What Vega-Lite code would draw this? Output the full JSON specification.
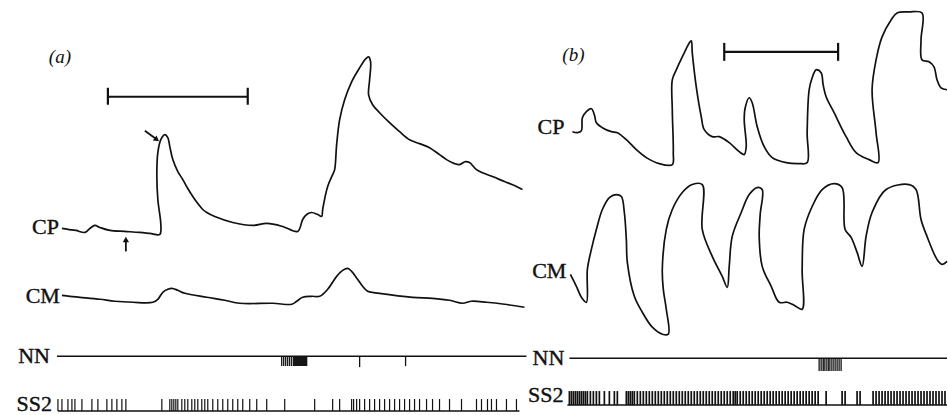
{
  "$schema": "https://vega.github.io/schema/vega-lite/v6.json",
  "width": 948,
  "height": 415,
  "autosize": {"type": "fit", "contains": "padding"},
  "padding": 0,
  "background": "white",
  "config": {"view": {"stroke": null}},
  "datasets": {
    "traces": [
      {"trace": "a-CP", "seq": 1, "x": 62, "y": 229}, {"trace": "a-CP", "seq": 2, "x": 68, "y": 230}, {"trace": "a-CP", "seq": 3, "x": 76, "y": 231}, {"trace": "a-CP", "seq": 4, "x": 85, "y": 233}, {"trace": "a-CP", "seq": 5, "x": 90, "y": 229}, {"trace": "a-CP", "seq": 6, "x": 95, "y": 226}, {"trace": "a-CP", "seq": 7, "x": 100, "y": 228}, {"trace": "a-CP", "seq": 8, "x": 110, "y": 231}, {"trace": "a-CP", "seq": 9, "x": 125, "y": 232}, {"trace": "a-CP", "seq": 10, "x": 140, "y": 233}, {"trace": "a-CP", "seq": 11, "x": 150, "y": 234}, {"trace": "a-CP", "seq": 12, "x": 160, "y": 235},
      {"trace": "a-CP", "seq": 13, "x": 161, "y": 225}, {"trace": "a-CP", "seq": 14, "x": 158, "y": 200}, {"trace": "a-CP", "seq": 15, "x": 157, "y": 175}, {"trace": "a-CP", "seq": 16, "x": 158, "y": 153}, {"trace": "a-CP", "seq": 17, "x": 161, "y": 140}, {"trace": "a-CP", "seq": 18, "x": 165, "y": 135}, {"trace": "a-CP", "seq": 19, "x": 168, "y": 138}, {"trace": "a-CP", "seq": 20, "x": 170, "y": 147}, {"trace": "a-CP", "seq": 21, "x": 173, "y": 160}, {"trace": "a-CP", "seq": 22, "x": 178, "y": 172}, {"trace": "a-CP", "seq": 23, "x": 183, "y": 180}, {"trace": "a-CP", "seq": 24, "x": 188, "y": 189}, {"trace": "a-CP", "seq": 25, "x": 193, "y": 197}, {"trace": "a-CP", "seq": 26, "x": 198, "y": 204}, {"trace": "a-CP", "seq": 27, "x": 203, "y": 210}, {"trace": "a-CP", "seq": 28, "x": 207, "y": 213}, {"trace": "a-CP", "seq": 29, "x": 215, "y": 217}, {"trace": "a-CP", "seq": 30, "x": 233, "y": 223}, {"trace": "a-CP", "seq": 31, "x": 253, "y": 226}, {"trace": "a-CP", "seq": 32, "x": 267, "y": 224}, {"trace": "a-CP", "seq": 33, "x": 283, "y": 227}, {"trace": "a-CP", "seq": 34, "x": 298, "y": 232}, {"trace": "a-CP", "seq": 35, "x": 303, "y": 220}, {"trace": "a-CP", "seq": 36, "x": 307, "y": 215}, {"trace": "a-CP", "seq": 37, "x": 312, "y": 213}, {"trace": "a-CP", "seq": 38, "x": 318, "y": 215}, {"trace": "a-CP", "seq": 39, "x": 322, "y": 217},
      {"trace": "a-CP", "seq": 40, "x": 323, "y": 210}, {"trace": "a-CP", "seq": 41, "x": 328, "y": 187}, {"trace": "a-CP", "seq": 42, "x": 333, "y": 175}, {"trace": "a-CP", "seq": 43, "x": 335, "y": 170}, {"trace": "a-CP", "seq": 44, "x": 337, "y": 145}, {"trace": "a-CP", "seq": 45, "x": 340, "y": 120}, {"trace": "a-CP", "seq": 46, "x": 345, "y": 100}, {"trace": "a-CP", "seq": 47, "x": 352, "y": 82}, {"trace": "a-CP", "seq": 48, "x": 360, "y": 68}, {"trace": "a-CP", "seq": 49, "x": 366, "y": 59}, {"trace": "a-CP", "seq": 50, "x": 369, "y": 57}, {"trace": "a-CP", "seq": 51, "x": 371, "y": 62}, {"trace": "a-CP", "seq": 52, "x": 370, "y": 80}, {"trace": "a-CP", "seq": 53, "x": 369, "y": 95}, {"trace": "a-CP", "seq": 54, "x": 373, "y": 105}, {"trace": "a-CP", "seq": 55, "x": 380, "y": 113}, {"trace": "a-CP", "seq": 56, "x": 390, "y": 123}, {"trace": "a-CP", "seq": 57, "x": 400, "y": 132}, {"trace": "a-CP", "seq": 58, "x": 410, "y": 140}, {"trace": "a-CP", "seq": 59, "x": 420, "y": 144}, {"trace": "a-CP", "seq": 60, "x": 430, "y": 148}, {"trace": "a-CP", "seq": 61, "x": 440, "y": 155}, {"trace": "a-CP", "seq": 62, "x": 447, "y": 160}, {"trace": "a-CP", "seq": 63, "x": 455, "y": 164}, {"trace": "a-CP", "seq": 64, "x": 460, "y": 165}, {"trace": "a-CP", "seq": 65, "x": 466, "y": 162}, {"trace": "a-CP", "seq": 66, "x": 470, "y": 163}, {"trace": "a-CP", "seq": 67, "x": 477, "y": 170}, {"trace": "a-CP", "seq": 68, "x": 485, "y": 174}, {"trace": "a-CP", "seq": 69, "x": 493, "y": 177}, {"trace": "a-CP", "seq": 70, "x": 505, "y": 182}, {"trace": "a-CP", "seq": 71, "x": 515, "y": 186}, {"trace": "a-CP", "seq": 72, "x": 523, "y": 190},

      {"trace": "a-CM", "seq": 1, "x": 62, "y": 296}, {"trace": "a-CM", "seq": 2, "x": 70, "y": 297}, {"trace": "a-CM", "seq": 3, "x": 80, "y": 298}, {"trace": "a-CM", "seq": 4, "x": 100, "y": 300}, {"trace": "a-CM", "seq": 5, "x": 115, "y": 302}, {"trace": "a-CM", "seq": 6, "x": 133, "y": 303}, {"trace": "a-CM", "seq": 7, "x": 153, "y": 303}, {"trace": "a-CM", "seq": 8, "x": 158, "y": 300}, {"trace": "a-CM", "seq": 9, "x": 163, "y": 293}, {"trace": "a-CM", "seq": 10, "x": 168, "y": 290}, {"trace": "a-CM", "seq": 11, "x": 172, "y": 289}, {"trace": "a-CM", "seq": 12, "x": 178, "y": 291}, {"trace": "a-CM", "seq": 13, "x": 185, "y": 294}, {"trace": "a-CM", "seq": 14, "x": 207, "y": 298}, {"trace": "a-CM", "seq": 15, "x": 225, "y": 301}, {"trace": "a-CM", "seq": 16, "x": 240, "y": 304}, {"trace": "a-CM", "seq": 17, "x": 273, "y": 304}, {"trace": "a-CM", "seq": 18, "x": 292, "y": 305}, {"trace": "a-CM", "seq": 19, "x": 297, "y": 302}, {"trace": "a-CM", "seq": 20, "x": 303, "y": 298}, {"trace": "a-CM", "seq": 21, "x": 312, "y": 297}, {"trace": "a-CM", "seq": 22, "x": 320, "y": 297}, {"trace": "a-CM", "seq": 23, "x": 328, "y": 290}, {"trace": "a-CM", "seq": 24, "x": 337, "y": 277}, {"trace": "a-CM", "seq": 25, "x": 343, "y": 271}, {"trace": "a-CM", "seq": 26, "x": 348, "y": 269}, {"trace": "a-CM", "seq": 27, "x": 352, "y": 272}, {"trace": "a-CM", "seq": 28, "x": 358, "y": 280}, {"trace": "a-CM", "seq": 29, "x": 363, "y": 287}, {"trace": "a-CM", "seq": 30, "x": 368, "y": 292}, {"trace": "a-CM", "seq": 31, "x": 380, "y": 294}, {"trace": "a-CM", "seq": 32, "x": 413, "y": 298}, {"trace": "a-CM", "seq": 33, "x": 433, "y": 299}, {"trace": "a-CM", "seq": 34, "x": 450, "y": 301}, {"trace": "a-CM", "seq": 35, "x": 463, "y": 304}, {"trace": "a-CM", "seq": 36, "x": 472, "y": 302}, {"trace": "a-CM", "seq": 37, "x": 487, "y": 303}, {"trace": "a-CM", "seq": 38, "x": 505, "y": 305}, {"trace": "a-CM", "seq": 39, "x": 525, "y": 308},

      {"trace": "b-CP", "seq": 1, "x": 573, "y": 132}, {"trace": "b-CP", "seq": 2, "x": 578, "y": 133}, {"trace": "b-CP", "seq": 3, "x": 582, "y": 131}, {"trace": "b-CP", "seq": 4, "x": 583, "y": 118}, {"trace": "b-CP", "seq": 5, "x": 587, "y": 112}, {"trace": "b-CP", "seq": 6, "x": 592, "y": 109}, {"trace": "b-CP", "seq": 7, "x": 595, "y": 115}, {"trace": "b-CP", "seq": 8, "x": 597, "y": 123}, {"trace": "b-CP", "seq": 9, "x": 603, "y": 128}, {"trace": "b-CP", "seq": 10, "x": 612, "y": 132}, {"trace": "b-CP", "seq": 11, "x": 618, "y": 133}, {"trace": "b-CP", "seq": 12, "x": 627, "y": 140}, {"trace": "b-CP", "seq": 13, "x": 637, "y": 150}, {"trace": "b-CP", "seq": 14, "x": 647, "y": 158}, {"trace": "b-CP", "seq": 15, "x": 660, "y": 164}, {"trace": "b-CP", "seq": 16, "x": 673, "y": 165}, {"trace": "b-CP", "seq": 17, "x": 674, "y": 153}, {"trace": "b-CP", "seq": 18, "x": 673, "y": 110}, {"trace": "b-CP", "seq": 19, "x": 673, "y": 80}, {"trace": "b-CP", "seq": 20, "x": 677, "y": 70}, {"trace": "b-CP", "seq": 21, "x": 685, "y": 53}, {"trace": "b-CP", "seq": 22, "x": 690, "y": 43}, {"trace": "b-CP", "seq": 23, "x": 692, "y": 41}, {"trace": "b-CP", "seq": 24, "x": 693, "y": 53}, {"trace": "b-CP", "seq": 25, "x": 697, "y": 87}, {"trace": "b-CP", "seq": 26, "x": 702, "y": 117}, {"trace": "b-CP", "seq": 27, "x": 705, "y": 130}, {"trace": "b-CP", "seq": 28, "x": 713, "y": 137}, {"trace": "b-CP", "seq": 29, "x": 720, "y": 137}, {"trace": "b-CP", "seq": 30, "x": 730, "y": 143}, {"trace": "b-CP", "seq": 31, "x": 740, "y": 152}, {"trace": "b-CP", "seq": 32, "x": 745, "y": 155}, {"trace": "b-CP", "seq": 33, "x": 747, "y": 147}, {"trace": "b-CP", "seq": 34, "x": 745, "y": 120}, {"trace": "b-CP", "seq": 35, "x": 746, "y": 108}, {"trace": "b-CP", "seq": 36, "x": 750, "y": 98}, {"trace": "b-CP", "seq": 37, "x": 753, "y": 103}, {"trace": "b-CP", "seq": 38, "x": 758, "y": 127}, {"trace": "b-CP", "seq": 39, "x": 765, "y": 147}, {"trace": "b-CP", "seq": 40, "x": 773, "y": 158}, {"trace": "b-CP", "seq": 41, "x": 787, "y": 163}, {"trace": "b-CP", "seq": 42, "x": 800, "y": 164}, {"trace": "b-CP", "seq": 43, "x": 808, "y": 163}, {"trace": "b-CP", "seq": 44, "x": 808, "y": 133}, {"trace": "b-CP", "seq": 45, "x": 810, "y": 90}, {"trace": "b-CP", "seq": 46, "x": 813, "y": 78}, {"trace": "b-CP", "seq": 47, "x": 817, "y": 70}, {"trace": "b-CP", "seq": 48, "x": 822, "y": 73}, {"trace": "b-CP", "seq": 49, "x": 824, "y": 85}, {"trace": "b-CP", "seq": 50, "x": 827, "y": 97}, {"trace": "b-CP", "seq": 51, "x": 835, "y": 113}, {"trace": "b-CP", "seq": 52, "x": 847, "y": 137}, {"trace": "b-CP", "seq": 53, "x": 857, "y": 153}, {"trace": "b-CP", "seq": 54, "x": 870, "y": 160}, {"trace": "b-CP", "seq": 55, "x": 879, "y": 163}, {"trace": "b-CP", "seq": 56, "x": 877, "y": 133}, {"trace": "b-CP", "seq": 57, "x": 873, "y": 90}, {"trace": "b-CP", "seq": 58, "x": 877, "y": 60}, {"trace": "b-CP", "seq": 59, "x": 883, "y": 37}, {"trace": "b-CP", "seq": 60, "x": 892, "y": 20}, {"trace": "b-CP", "seq": 61, "x": 898, "y": 13}, {"trace": "b-CP", "seq": 62, "x": 910, "y": 12}, {"trace": "b-CP", "seq": 63, "x": 923, "y": 13}, {"trace": "b-CP", "seq": 64, "x": 922, "y": 40}, {"trace": "b-CP", "seq": 65, "x": 923, "y": 60}, {"trace": "b-CP", "seq": 66, "x": 930, "y": 62}, {"trace": "b-CP", "seq": 67, "x": 935, "y": 67}, {"trace": "b-CP", "seq": 68, "x": 938, "y": 80}, {"trace": "b-CP", "seq": 69, "x": 942, "y": 88}, {"trace": "b-CP", "seq": 70, "x": 948, "y": 90},

      {"trace": "b-CM", "seq": 1, "x": 571, "y": 275}, {"trace": "b-CM", "seq": 2, "x": 577, "y": 287}, {"trace": "b-CM", "seq": 3, "x": 582, "y": 298}, {"trace": "b-CM", "seq": 4, "x": 587, "y": 303}, {"trace": "b-CM", "seq": 5, "x": 588, "y": 270}, {"trace": "b-CM", "seq": 6, "x": 592, "y": 250}, {"trace": "b-CM", "seq": 7, "x": 597, "y": 230}, {"trace": "b-CM", "seq": 8, "x": 603, "y": 210}, {"trace": "b-CM", "seq": 9, "x": 610, "y": 198}, {"trace": "b-CM", "seq": 10, "x": 617, "y": 195}, {"trace": "b-CM", "seq": 11, "x": 622, "y": 197}, {"trace": "b-CM", "seq": 12, "x": 625, "y": 213}, {"trace": "b-CM", "seq": 13, "x": 627, "y": 240}, {"trace": "b-CM", "seq": 14, "x": 628, "y": 263}, {"trace": "b-CM", "seq": 15, "x": 635, "y": 297}, {"trace": "b-CM", "seq": 16, "x": 643, "y": 313}, {"trace": "b-CM", "seq": 17, "x": 653, "y": 328}, {"trace": "b-CM", "seq": 18, "x": 663, "y": 335}, {"trace": "b-CM", "seq": 19, "x": 669, "y": 335}, {"trace": "b-CM", "seq": 20, "x": 667, "y": 310}, {"trace": "b-CM", "seq": 21, "x": 664, "y": 290}, {"trace": "b-CM", "seq": 22, "x": 663, "y": 270}, {"trace": "b-CM", "seq": 23, "x": 667, "y": 230}, {"trace": "b-CM", "seq": 24, "x": 673, "y": 210}, {"trace": "b-CM", "seq": 25, "x": 683, "y": 193}, {"trace": "b-CM", "seq": 26, "x": 693, "y": 185}, {"trace": "b-CM", "seq": 27, "x": 703, "y": 185}, {"trace": "b-CM", "seq": 28, "x": 703, "y": 230}, {"trace": "b-CM", "seq": 29, "x": 713, "y": 257}, {"trace": "b-CM", "seq": 30, "x": 723, "y": 277}, {"trace": "b-CM", "seq": 31, "x": 728, "y": 288}, {"trace": "b-CM", "seq": 32, "x": 730, "y": 267}, {"trace": "b-CM", "seq": 33, "x": 733, "y": 237}, {"trace": "b-CM", "seq": 34, "x": 742, "y": 213}, {"trace": "b-CM", "seq": 35, "x": 750, "y": 195}, {"trace": "b-CM", "seq": 36, "x": 758, "y": 188}, {"trace": "b-CM", "seq": 37, "x": 763, "y": 190}, {"trace": "b-CM", "seq": 38, "x": 761, "y": 215}, {"trace": "b-CM", "seq": 39, "x": 760, "y": 237}, {"trace": "b-CM", "seq": 40, "x": 763, "y": 267}, {"trace": "b-CM", "seq": 41, "x": 772, "y": 287}, {"trace": "b-CM", "seq": 42, "x": 780, "y": 303}, {"trace": "b-CM", "seq": 43, "x": 788, "y": 303}, {"trace": "b-CM", "seq": 44, "x": 795, "y": 306}, {"trace": "b-CM", "seq": 45, "x": 803, "y": 310}, {"trace": "b-CM", "seq": 46, "x": 803, "y": 270}, {"trace": "b-CM", "seq": 47, "x": 805, "y": 230}, {"trace": "b-CM", "seq": 48, "x": 813, "y": 207}, {"trace": "b-CM", "seq": 49, "x": 823, "y": 190}, {"trace": "b-CM", "seq": 50, "x": 835, "y": 184}, {"trace": "b-CM", "seq": 51, "x": 843, "y": 188}, {"trace": "b-CM", "seq": 52, "x": 846, "y": 230}, {"trace": "b-CM", "seq": 53, "x": 852, "y": 238}, {"trace": "b-CM", "seq": 54, "x": 858, "y": 253}, {"trace": "b-CM", "seq": 55, "x": 863, "y": 267}, {"trace": "b-CM", "seq": 56, "x": 867, "y": 237}, {"trace": "b-CM", "seq": 57, "x": 873, "y": 213}, {"trace": "b-CM", "seq": 58, "x": 887, "y": 190}, {"trace": "b-CM", "seq": 59, "x": 910, "y": 185}, {"trace": "b-CM", "seq": 60, "x": 917, "y": 190}, {"trace": "b-CM", "seq": 61, "x": 922, "y": 220}, {"trace": "b-CM", "seq": 62, "x": 928, "y": 237}, {"trace": "b-CM", "seq": 63, "x": 938, "y": 260}, {"trace": "b-CM", "seq": 64, "x": 943, "y": 265}, {"trace": "b-CM", "seq": 65, "x": 948, "y": 262}
    ],
    "baselines": [
      {"row": "a-NN", "x": 57, "x2": 527, "y": 357},
      {"row": "b-NN", "x": 570, "x2": 948, "y": 359},
      {"row": "a-SS2", "x": 58, "x2": 520, "y": 412},
      {"row": "b-SS2", "x": 568, "x2": 948, "y": 406}
    ],
    "scalebars": [
      {"panel": "a", "x": 108, "x2": 248, "y": 97, "y2": 97},
      {"panel": "a", "x": 108, "x2": 108, "y": 88, "y2": 105},
      {"panel": "a", "x": 248, "x2": 248, "y": 88, "y2": 105},
      {"panel": "b", "x": 725, "x2": 839, "y": 52, "y2": 52},
      {"panel": "b", "x": 725, "x2": 725, "y": 43, "y2": 61},
      {"panel": "b", "x": 839, "x2": 839, "y": 43, "y2": 61}
    ],
    "nnBursts": [
      {"x": 282, "y": 357, "y2": 367}, {"x": 284, "y": 357, "y2": 367}, {"x": 286, "y": 357, "y2": 367}, {"x": 288, "y": 357, "y2": 367}, {"x": 290, "y": 357, "y2": 367}, {"x": 292, "y": 357, "y2": 367}, {"x": 294, "y": 357, "y2": 367}, {"x": 295, "y": 357, "y2": 367}, {"x": 296, "y": 357, "y2": 367}, {"x": 297, "y": 357, "y2": 367}, {"x": 298, "y": 357, "y2": 367}, {"x": 299, "y": 357, "y2": 367}, {"x": 300, "y": 357, "y2": 367}, {"x": 301, "y": 357, "y2": 367}, {"x": 302, "y": 357, "y2": 367}, {"x": 303, "y": 357, "y2": 367}, {"x": 304, "y": 357, "y2": 367}, {"x": 305, "y": 357, "y2": 367}, {"x": 306, "y": 357, "y2": 367}, {"x": 307, "y": 357, "y2": 367},
      {"x": 360, "y": 357, "y2": 368}, {"x": 406, "y": 357, "y2": 367},
      {"x": 820, "y": 359, "y2": 372}, {"x": 822, "y": 359, "y2": 372}, {"x": 824, "y": 359, "y2": 372}, {"x": 825, "y": 359, "y2": 372}, {"x": 827, "y": 359, "y2": 372}, {"x": 829, "y": 359, "y2": 372}, {"x": 830, "y": 359, "y2": 372}, {"x": 832, "y": 359, "y2": 372}, {"x": 834, "y": 359, "y2": 372}, {"x": 836, "y": 359, "y2": 372}, {"x": 838, "y": 359, "y2": 372}, {"x": 840, "y": 359, "y2": 372}, {"x": 842, "y": 359, "y2": 372}
    ],
    "ss2a": [58, 62, 68, 72, 75, 82, 92, 98, 107, 112, 117, 122, 126, 162, 170, 172, 174, 176, 178, 182, 185, 188, 192, 195, 198, 202, 205, 208, 213, 218, 223, 228, 233, 238, 243, 250, 257, 267, 285, 315, 333, 340, 352, 354, 357, 360, 365, 370, 375, 380, 385, 390, 395, 400, 405, 410, 415, 420, 427, 433, 440, 450, 462, 477, 482, 488, 492, 497, 507, 517],
    "ss2b": [570, 572, 574, 576, 578, 580, 582, 584, 586, 588, 591, 594, 597, 600, 605, 610, 615, 618, 627, 629, 631, 633, 635, 638, 641, 644, 647, 650, 653, 656, 659, 662, 665, 668, 671, 674, 677, 680, 683, 686, 689, 692, 695, 698, 701, 704, 707, 710, 713, 716, 719, 722, 725, 728, 731, 734, 736, 738, 741, 744, 747, 750, 753, 756, 759, 762, 765, 768, 771, 774, 777, 780, 783, 786, 789, 792, 795, 798, 801, 804, 807, 810, 813, 816, 819, 827, 843, 846, 858, 861, 874, 877, 880, 883, 886, 889, 892, 895, 898, 901, 904, 907, 910, 913, 916, 919, 922, 925, 928, 931, 934, 937, 940, 943, 946],
    "labels": [
      {"text": "CP", "x": 59, "y": 228},
      {"text": "CM", "x": 60, "y": 297},
      {"text": "NN", "x": 50, "y": 357},
      {"text": "SS2", "x": 52, "y": 405},
      {"text": "CP", "x": 565, "y": 127},
      {"text": "CM", "x": 567, "y": 272},
      {"text": "NN", "x": 565, "y": 359},
      {"text": "SS2", "x": 564, "y": 396}
    ],
    "panels": [
      {"text": "(a)", "x": 60, "y": 57},
      {"text": "(b)", "x": 574, "y": 55}
    ],
    "shafts": [
      {"x": 145, "x2": 156, "y": 131, "y2": 139},
      {"x": 126, "x2": 126, "y": 252, "y2": 241}
    ],
    "heads": [
      {"x": 157, "y": 140, "angle": 127},
      {"x": 126, "y": 240, "angle": 0}
    ]
  },
  "layer": [
    {
      "data": {"name": "traces"},
      "mark": {"type": "line", "color": "#111", "strokeWidth": 1.7, "interpolate": "catmull-rom", "strokeJoin": "round"},
      "encoding": {
        "x": {"field": "x", "type": "quantitative", "scale": {"domain": [0, 948], "nice": false, "zero": false}, "axis": null},
        "y": {"field": "y", "type": "quantitative", "scale": {"domain": [0, 415], "nice": false, "zero": false, "reverse": true}, "axis": null},
        "detail": {"field": "trace"},
        "order": {"field": "seq", "type": "quantitative"}
      }
    },
    {
      "data": {"name": "baselines"},
      "mark": {"type": "rule", "color": "#111", "strokeWidth": 1.5},
      "encoding": {
        "x": {"field": "x", "type": "quantitative"},
        "x2": {"field": "x2"},
        "y": {"field": "y", "type": "quantitative"}
      }
    },
    {
      "data": {"name": "scalebars"},
      "mark": {"type": "rule", "color": "#111", "strokeWidth": 2.2},
      "encoding": {
        "x": {"field": "x", "type": "quantitative"},
        "x2": {"field": "x2"},
        "y": {"field": "y", "type": "quantitative"},
        "y2": {"field": "y2"}
      }
    },
    {
      "data": {"name": "nnBursts"},
      "mark": {"type": "rule", "color": "#111", "strokeWidth": 1.3},
      "encoding": {
        "x": {"field": "x", "type": "quantitative"},
        "y": {"field": "y", "type": "quantitative"},
        "y2": {"field": "y2"}
      }
    },
    {
      "data": {"name": "ss2a"},
      "mark": {"type": "rule", "color": "#111", "strokeWidth": 1.2},
      "encoding": {
        "x": {"field": "data", "type": "quantitative"},
        "y": {"datum": 400, "type": "quantitative"},
        "y2": {"datum": 412}
      }
    },
    {
      "data": {"name": "ss2b"},
      "mark": {"type": "rule", "color": "#111", "strokeWidth": 1.7},
      "encoding": {
        "x": {"field": "data", "type": "quantitative"},
        "y": {"datum": 392, "type": "quantitative"},
        "y2": {"datum": 406}
      }
    },
    {
      "data": {"name": "labels"},
      "mark": {"type": "text", "font": "Liberation Serif", "fontSize": 22, "align": "right", "baseline": "middle", "color": "#111", "stroke": "#111", "strokeWidth": 0.4},
      "encoding": {
        "x": {"field": "x", "type": "quantitative"},
        "y": {"field": "y", "type": "quantitative"},
        "text": {"field": "text"}
      }
    },
    {
      "data": {"name": "panels"},
      "mark": {"type": "text", "font": "Liberation Serif", "fontSize": 19, "fontStyle": "italic", "align": "center", "baseline": "middle", "color": "#111"},
      "encoding": {
        "x": {"field": "x", "type": "quantitative"},
        "y": {"field": "y", "type": "quantitative"},
        "text": {"field": "text"}
      }
    },
    {
      "data": {"name": "shafts"},
      "mark": {"type": "rule", "color": "#111", "strokeWidth": 1.8},
      "encoding": {
        "x": {"field": "x", "type": "quantitative"},
        "x2": {"field": "x2"},
        "y": {"field": "y", "type": "quantitative"},
        "y2": {"field": "y2"}
      }
    },
    {
      "data": {"name": "heads"},
      "mark": {"type": "point", "shape": "triangle-up", "filled": true, "color": "#111", "size": 40, "opacity": 1},
      "encoding": {
        "x": {"field": "x", "type": "quantitative"},
        "y": {"field": "y", "type": "quantitative"},
        "angle": {"field": "angle", "type": "quantitative", "scale": null}
      }
    }
  ]
}
